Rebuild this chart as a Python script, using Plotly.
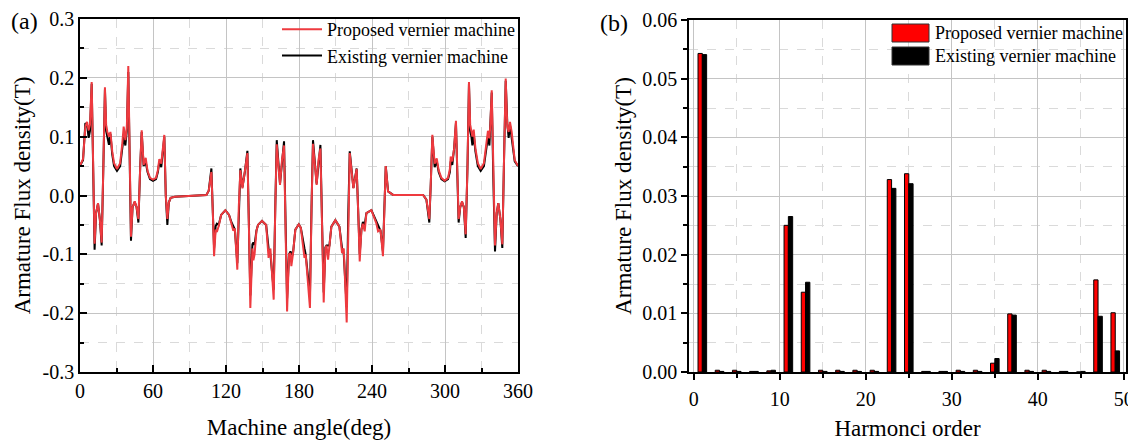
import plotly.graph_objects as go

# page body adds an 8 px margin, so the figure is drawn 8 px right/down
OFF = 8
W, H = 1136 - OFF, 441 - OFF

# ---------------- (a) armature flux density waveform ----------------
angle_deg = [0, 2.5, 4.4, 5.8, 7.1, 8.2, 9.6, 10.8, 12.0, 13.2, 14.8, 16.3, 17.8, 19.2, 20.5, 21.5,
             22.5, 23.8, 25.0, 26.5, 28.0, 30.4, 33.0, 34.8, 35.9, 37.3, 38.5, 39.7, 40.8, 41.9, 43.2,
             45.0, 46.5, 48.0, 49.5, 50.7, 52.3, 54.0, 55.5, 57.5, 60.0, 62.5, 64.0, 65.2, 66.8, 69.3,
             70.5, 71.8, 73.0, 74.5, 78.0, 85.0, 95.0, 103.9, 105.8, 108.0, 109.2, 110.2, 111.5, 112.5,
             114.0, 116.0, 119.5, 122.5, 124.4, 126.0, 127.3, 129.3, 130.5, 131.8, 133.5, 135.5, 137.6,
             138.8, 140.0, 141.7, 142.5, 143.5, 145.0, 146.3, 149.6, 153.0, 155.0, 156.5, 159.2, 160.5,
             161.7, 164.4, 166.0, 167.7, 169.0, 170.2, 171.8, 173.0, 173.7, 175.0, 177.0, 179.8, 181.5,
             183.3, 184.5, 185.5, 187.5, 189.0, 190.3, 191.5, 194.5, 196.0, 197.6, 199.0, 200.3, 201.7,
             202.6, 203.9, 205.0, 206.6, 209.9, 213.2, 215.4, 216.8, 219.2, 220.5, 221.7, 224.7, 226.0,
             227.4, 228.7, 229.9, 231.3, 232.5, 234.0, 235.4, 239.5, 243.5, 245.0, 247.0, 249.0, 250.3,
             251.3, 253.2, 257.3, 270.0, 282.0, 284.7, 287.1, 288.3, 289.6, 291.5, 293.2, 294.8, 297.0,
             299.7, 302.5, 304.0, 304.7, 306.0, 307.5, 309.0, 310.2, 311.2, 312.5, 314.0, 315.5, 317.0,
             318.5, 319.7, 320.7, 321.7, 322.5, 323.6, 325.0, 327.0, 329.3, 332.0, 334.0, 335.3, 336.5,
             337.3, 338.4, 339.7, 341.1, 342.5, 343.8, 345.5, 347.1, 348.5, 349.9, 351.2, 352.3, 353.4,
             354.8, 357.3, 360.0]

proposed_b = [0.051, 0.062, 0.117, 0.125, 0.111, 0.120, 0.193, 0.050, -0.082, -0.030, -0.013, -0.040,
              -0.080, 0.050, 0.184, 0.120, 0.108, 0.100, 0.108, 0.075, 0.055, 0.045, 0.055, 0.089, 0.117,
              0.094, 0.115, 0.220, 0.050, -0.070, -0.020, -0.010, -0.020, -0.040, 0.050, 0.111, 0.052,
              0.064, 0.042, 0.030, 0.027, 0.030, 0.043, 0.062, 0.054, 0.103, 0.000, -0.040, -0.012,
              -0.004, -0.002, -0.001, 0.000, 0.001, 0.008, 0.040, -0.030, -0.103, -0.058, -0.062,
              -0.052, -0.033, -0.025, -0.033, -0.047, -0.060, -0.056, -0.126, -0.020, 0.043, 0.012,
              0.040, 0.072, -0.050, -0.191, -0.090, -0.110, -0.100, -0.060, -0.050, -0.043, -0.050,
              -0.106, -0.090, -0.177, -0.020, 0.087, 0.018, 0.060, 0.085, -0.050, -0.197, -0.100,
              -0.098, -0.120, -0.100, -0.058, -0.049, -0.055, -0.084, -0.106, -0.100, -0.150, -0.191,
              -0.020, 0.088, 0.018, 0.060, 0.080, -0.050, -0.182, -0.090, -0.085, -0.109, -0.085,
              -0.053, -0.042, -0.053, -0.098, -0.090, -0.216, -0.030, 0.072, 0.012, 0.030, 0.045,
              -0.030, -0.112, -0.058, -0.048, -0.061, -0.030, -0.025, -0.047, -0.061, -0.058, -0.103,
              -0.010, 0.050, 0.007, 0.001, 0.001, 0.001, -0.007, -0.040, 0.020, 0.103, 0.054, 0.063,
              0.043, 0.030, 0.025, 0.030, 0.045, 0.066, 0.058, 0.080, 0.127, 0.030, -0.040, -0.020,
              -0.010, -0.020, -0.066, 0.050, 0.193, 0.120, 0.108, 0.100, 0.112, 0.080, 0.055, 0.045,
              0.055, 0.094, 0.110, 0.097, 0.120, 0.179, 0.030, -0.085, -0.030, -0.013, -0.040, -0.083,
              0.060, 0.199, 0.117, 0.108, 0.125, 0.108, 0.060, 0.050]

existing_b = [0.051, 0.060, 0.123, 0.120, 0.098, 0.110, 0.190, 0.050, -0.092, -0.030, -0.014, -0.040,
              -0.085, 0.050, 0.180, 0.110, 0.100, 0.086, 0.105, 0.070, 0.050, 0.042, 0.050, 0.080, 0.100,
              0.085, 0.110, 0.210, 0.050, -0.077, -0.020, -0.011, -0.020, -0.046, 0.050, 0.108, 0.050,
              0.057, 0.040, 0.028, 0.025, 0.028, 0.040, 0.057, 0.048, 0.100, 0.000, -0.050, -0.012,
              -0.004, -0.002, -0.001, 0.000, 0.001, 0.008, 0.046, -0.030, -0.090, -0.052, -0.048,
              -0.050, -0.033, -0.025, -0.033, -0.045, -0.052, -0.058, -0.115, -0.020, 0.046, 0.014,
              0.040, 0.076, -0.050, -0.170, -0.083, -0.080, -0.084, -0.060, -0.050, -0.043, -0.050,
              -0.090, -0.100, -0.160, -0.020, 0.094, 0.020, 0.060, 0.092, -0.050, -0.175, -0.100,
              -0.095, -0.100, -0.100, -0.058, -0.049, -0.055, -0.080, -0.090, -0.100, -0.140, -0.170,
              -0.020, 0.094, 0.020, 0.060, 0.086, -0.050, -0.165, -0.088, -0.085, -0.085, -0.085,
              -0.053, -0.042, -0.053, -0.090, -0.100, -0.190, -0.030, 0.075, 0.013, 0.030, 0.046,
              -0.030, -0.100, -0.058, -0.045, -0.050, -0.030, -0.025, -0.045, -0.050, -0.060, -0.095,
              -0.010, 0.050, 0.007, 0.001, 0.001, 0.001, -0.007, -0.046, 0.020, 0.100, 0.048, 0.058,
              0.040, 0.028, 0.024, 0.028, 0.040, 0.058, 0.052, 0.080, 0.123, 0.030, -0.046, -0.020,
              -0.011, -0.020, -0.072, 0.050, 0.190, 0.110, 0.100, 0.085, 0.105, 0.075, 0.050, 0.042,
              0.050, 0.080, 0.100, 0.085, 0.115, 0.175, 0.030, -0.095, -0.030, -0.013, -0.040, -0.089,
              0.060, 0.195, 0.123, 0.098, 0.120, 0.100, 0.058, 0.050]

a_xticks = [0, 60, 120, 180, 240, 300, 360]
a_yticks = [-0.3, -0.2, -0.1, 0.0, 0.1, 0.2, 0.3]
a_yticktext = ["-0.3", "-0.2", "-0.1", "0.0", "0.1", "0.2", "0.3"]

# ---------------- (b) harmonic spectrum ----------------
harmonic_order = [1, 3, 5, 7, 9, 11, 13, 15, 17, 19, 21, 23, 25, 27, 29, 31, 33, 35, 37, 39, 41, 43, 45, 47, 49]
proposed_h = [0.0543, 0.0003, 0.0003, 0.0001, 0.0002, 0.0250, 0.0136, 0.0003, 0.0003, 0.0003, 0.0003,
              0.0328, 0.0338, 0.0001, 0.0001, 0.0003, 0.0003, 0.0015, 0.0099, 0.0003, 0.0003, 0.0001,
              0.0000, 0.0157, 0.0101]
existing_h = [0.0541, 0.0001, 0.0001, 0.0001, 0.0003, 0.0265, 0.0153, 0.0001, 0.0001, 0.0001, 0.0001,
              0.0313, 0.0321, 0.0001, 0.0001, 0.0001, 0.0001, 0.0023, 0.0097, 0.0001, 0.0001, 0.0001,
              0.0001, 0.0095, 0.0036]
b_xticks = [0, 10, 20, 30, 40, 50]
b_yticks = [0.0, 0.01, 0.02, 0.03, 0.04, 0.05, 0.06]

series_names = ["Proposed vernier machine", "Existing vernier machine"]

FONT = "Liberation Serif, Times New Roman, serif"
RED_LINE = "#EE3A3F"
GRID = "#C4C4C4"
MINOR_GRID = "#DADADA"
TICK_SIZE = 20
TITLE_SIZE = 23


def px_x(p):
    return (p - OFF) / W


def px_y(p):
    return 1 - (p - OFF) / H


fig = go.Figure()

fig.add_trace(go.Scatter(x=angle_deg, y=existing_b, mode="lines", name=series_names[1],
                         line=dict(color="black", width=2), xaxis="x", yaxis="y",
                         legendrank=2, legend="legend"))
fig.add_trace(go.Scatter(x=angle_deg, y=proposed_b, mode="lines", name=series_names[0],
                         line=dict(color=RED_LINE, width=2), xaxis="x", yaxis="y",
                         legendrank=1, legend="legend"))

fig.add_trace(go.Bar(x=harmonic_order, y=proposed_h, name=series_names[0], xaxis="x2", yaxis="y2",
                     marker=dict(color="#FF0000", line=dict(color="black", width=1)),
                     showlegend=False))
fig.add_trace(go.Bar(x=harmonic_order, y=existing_h, name=series_names[1], xaxis="x2", yaxis="y2",
                     marker=dict(color="#000000", line=dict(color="black", width=1)),
                     showlegend=False))

axis_common = dict(showline=True, linecolor="black", linewidth=1.5, mirror=True,
                   showgrid=True, gridcolor=GRID, gridwidth=1, griddash="solid", zeroline=False,
                   automargin=False,
                   tickfont=dict(family=FONT, size=TICK_SIZE, color="black"),
                   tickcolor="black", tickwidth=1.5)

fig.update_layout(
    width=W, height=H,
    margin=dict(l=0, r=0, t=0, b=0),
    paper_bgcolor="white", plot_bgcolor="white",
    font=dict(family=FONT, color="black"),
    barmode="group", bargap=0.5, bargroupgap=0,
    xaxis=dict(domain=[px_x(80), px_x(518)], range=[0, 360], tickmode="array", tickvals=a_xticks,
               ticks="inside", ticklen=7, anchor="y",
               minor=dict(tickvals=[30, 90, 150, 210, 270, 330], ticks="inside", ticklen=4,
                          tickcolor="black", showgrid=True, gridcolor=MINOR_GRID, griddash="dash"),
               title=dict(text="Machine angle(deg)", font=dict(family=FONT, size=TITLE_SIZE), standoff=18),
               **axis_common),
    yaxis=dict(domain=[px_y(372), px_y(19)], range=[-0.3, 0.3], tickmode="array", tickvals=a_yticks,
               ticktext=a_yticktext, ticks="inside", ticklen=7, anchor="x",
               minor=dict(tickvals=[-0.25, -0.15, -0.05, 0.05, 0.15, 0.25], ticks="inside", ticklen=4,
                          tickcolor="black", showgrid=True, gridcolor=MINOR_GRID, griddash="dash"),
               title=dict(text="Armature Flux density(T)", font=dict(family=FONT, size=TITLE_SIZE), standoff=6),
               **axis_common),
    xaxis2=dict(domain=[px_x(689), px_x(1126)], range=[-0.55, 50.25], tickmode="array", tickvals=b_xticks,
                ticks="outside", ticklen=6, anchor="y2", ticklabelstandoff=2,
                minor=dict(tickvals=[5, 15, 25, 35, 45], ticks="outside", ticklen=4,
                           tickcolor="black", showgrid=True, gridcolor=MINOR_GRID, griddash="dash"),
                title=dict(text="Harmonci order", font=dict(family=FONT, size=TITLE_SIZE), standoff=18),
                **axis_common),
    yaxis2=dict(domain=[px_y(372), px_y(20)], range=[0, 0.06], tickmode="array", tickvals=b_yticks,
                tickformat=".2f", ticks="outside", ticklen=6, anchor="x2",
                minor=dict(tickvals=[0.005, 0.015, 0.025, 0.035, 0.045, 0.055], ticks="outside", ticklen=4,
                           tickcolor="black", showgrid=True, gridcolor=MINOR_GRID, griddash="dash"),
                title=dict(text="Armature Flux density(T)", font=dict(family=FONT, size=TITLE_SIZE), standoff=4),
                **axis_common),
    legend=dict(x=px_x(520), y=px_y(11), xanchor="right", yanchor="top",
                bgcolor="rgba(0,0,0,0)", borderwidth=0, itemwidth=40,
                font=dict(family=FONT, size=18, color="black"), tracegroupgap=0),
)

# custom legend for panel (b) with wide rectangular swatches
swatches = [("#FF0000", 24, 42, 33), ("#000000", 47, 65, 56)]
for (col, y0, y1, yc), name in zip(swatches, series_names):
    fig.add_shape(type="rect", xref="paper", yref="paper", x0=px_x(892), x1=px_x(929),
                  y0=px_y(y1), y1=px_y(y0), fillcolor=col, line=dict(color="#333333", width=1))
    fig.add_annotation(text=name, xref="paper", yref="paper", x=px_x(933), y=px_y(yc),
                       xanchor="left", yanchor="middle", showarrow=False,
                       font=dict(family=FONT, size=18, color="black"))

fig.add_annotation(text="(a)", xref="paper", yref="paper", x=px_x(24), y=px_y(21), showarrow=False,
                   xanchor="center", yanchor="middle", font=dict(family=FONT, size=24, color="black"))
fig.add_annotation(text="(b)", xref="paper", yref="paper", x=px_x(614), y=px_y(23), showarrow=False,
                   xanchor="center", yanchor="middle", font=dict(family=FONT, size=24, color="black"))

fig.write_html("out.html")
